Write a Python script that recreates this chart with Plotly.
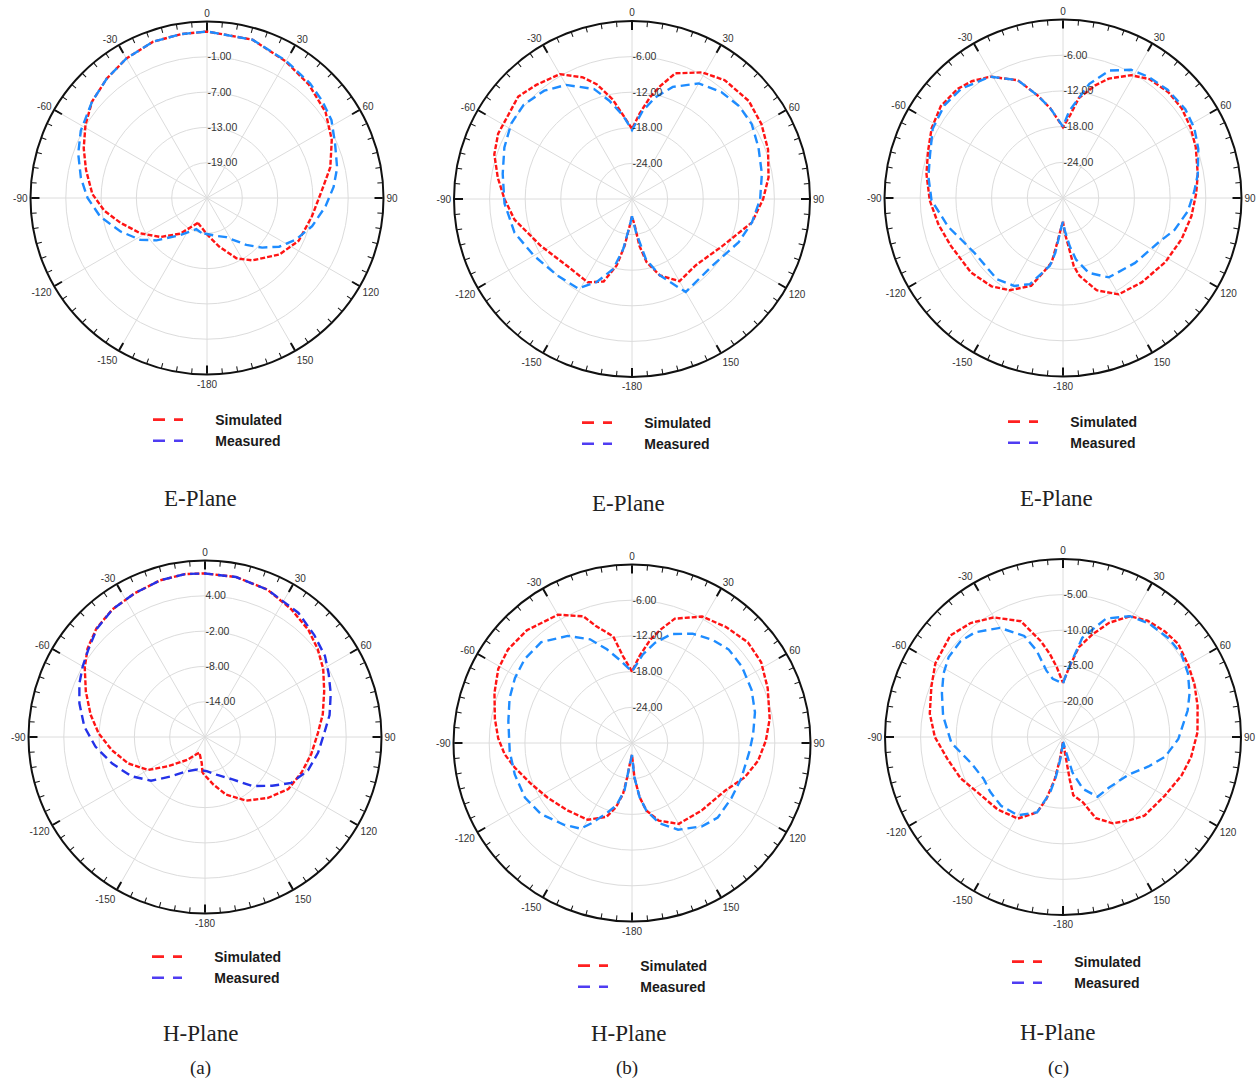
import plotly.graph_objects as go

W, H = 1258, 1082

# ---------------- radiation pattern data (angle in deg, gain in dB) ----------------
# (a) E-plane
a_e_sim_theta = [-160, -143, -130, -118, -106, -97, -88, -77, -68, -59, -50, -40, -30, -19, -9, 0,
                 16, 30, 42, 54, 65, 76, 86, 100, 115, 128, 144, 154, 166, 179]
a_e_sim_gain = [-20.5, -17.4, -14.7, -12.2, -9.7, -7.4, -5.5, -3.9, -2.4, -0.9, 0.5, 1.5, 2.4, 3.1, 3.2, 3.3,
                3.0, 1.8, 0.9, -0.1, -1.6, -3.4, -5.4, -6.9, -7.8, -9.4, -11.9, -13.6, -16.5, -18.7]
a_e_mea_theta = [-171, -161, -144, -130, -122, -111, -100, -90, -81, -71, -62, -50, -40, -30, -19, -9, 0,
                 16, 30, 42, 50, 58, 67, 77, 85, 94, 105, 115, 124, 132, 140, 154, 166]
a_e_mea_gain = [-19.0, -19.4, -17.2, -13.8, -11.6, -9.2, -6.6, -4.7, -3.3, -1.85, -0.7, 0.5, 1.5, 2.4, 3.1, 3.2, 3.3,
                3.0, 1.9, 1.2, 0.6, -0.05, -1.35, -2.3, -3.4, -4.8, -6.5, -8.3, -10.2, -12.4, -14.6, -17.6, -18.35]

# (a) H-plane
a_h_sim_theta = [-176, -173, -160, -142, -128, -120, -109, -98, -88, -79, -69, -60, -53, -45, -36, -26, -16, -7, 0,
                 11, 23, 34, 44, 52, 60, 69, 79, 88, 99, 110, 122, 134, 147, 160, 170]
a_h_sim_gain = [-13.9, -15.5, -17.2, -15.05, -11.9, -8.8, -6.2, -4.0, -1.9, -0.2, 1.7, 3.6, 5.0, 6.1, 6.8, 7.2, 7.7, 7.9, 7.8,
                7.7, 7.2, 6.2, 5.3, 4.3, 3.2, 1.7, 0.4, -0.8, -1.7, -2.5, -3.3, -5.1, -7.1, -9.6, -11.8]
a_h_mea_theta = [-166, -152, -139, -129, -118, -106, -95, -85, -75, -67, -60, -53, -45, -36, -26, -16, -7, 0,
                 11, 23, 37, 47, 56, 63, 71, 80, 88, 98, 108, 118, 126, 136, 147, 163, 177]
a_h_mea_gain = [-14.3, -13.4, -11.1, -8.2, -5.8, -3.6, -1.3, 0.6, 2.1, 3.2, 4.0, 4.8, 6.0, 6.8, 7.2, 7.7, 7.9, 7.8,
                7.7, 7.2, 6.4, 5.4, 4.6, 3.6, 2.6, 1.5, 0.3, -0.6, -1.6, -3.4, -5.9, -8.4, -11.4, -13.3, -14.2]

# (b) E-plane
b_e_sim_theta = [-180, -175, -171, -167, -161, -152, -136, -117, -100, -90, -81, -72, -64, -48, -40, -30, -22, -17,
                 -11, -4, 0, 5, 10, 14, 19, 29, 38, 50, 60, 70, 81, 90, 101, 118, 136, 150, 160, 167, 171, 174, 180]
b_e_sim_gain = [-27.1, -25.4, -22.0, -18.5, -15.3, -14.1, -14.3, -12.7, -9.9, -8.5, -7.1, -5.6, -4.9, -4.2, -4.9, -5.7,
                -7.9, -9.8, -12.9, -16.7, -18.2, -15.6, -12.6, -10.4, -7.6, -5.6, -4.6, -4.3, -4.8, -5.6, -6.7, -7.9,
                -9.4, -12.9, -14.5, -14.0, -16.3, -19.1, -22.0, -25.4, -27.1]
b_e_mea_theta = [-180, -175, -170, -165, -157, -149, -136, -120, -106, -92, -79, -68, -58, -49, -39, -30, -19, -13, -6,
                 0, 7, 13, 20, 30, 40, 49, 58, 68, 79, 90, 101, 112, 130, 150, 160, 167, 173, 180]
b_e_mea_gain = [-27.1, -25.4, -21.4, -17.8, -14.8, -12.4, -12.0, -10.9, -9.4, -8.5, -7.8, -6.8, -6.0, -5.8, -6.5, -7.8,
                -10.4, -13.0, -15.9, -18.4, -15.0, -12.4, -9.9, -7.5, -6.5, -6.1, -6.2, -7.0, -7.7, -8.4, -9.4, -10.6,
                -12.4, -11.9, -16.3, -19.6, -24.3, -27.1]

# (b) H-plane
b_h_sim_theta = [-180, -174, -172, -170, -166, -161, -150, -136, -123, -112, -102, -95, -88, -80, -70, -61, -53, -43,
                 -30, -21, -17, -10, -6, 0, 5, 10, 14, 19, 29, 39, 49, 58, 68, 80, 89, 98, 107, 117, 134, 150, 161,
                 168, 172, 176, 180]
b_h_sim_gain = [-28.0, -26.4, -24.1, -21.3, -18.9, -16.9, -15.1, -14.3, -13.1, -11.7, -9.9, -8.5, -7.5, -6.6, -5.4,
                -4.3, -3.9, -4.1, -5.1, -7.2, -9.5, -11.8, -15.3, -18.0, -15.3, -12.4, -10.4, -7.9, -5.7, -4.9, -4.2,
                -4.4, -5.4, -6.5, -7.5, -8.6, -10.2, -12.4, -13.7, -14.3, -16.2, -18.4, -20.8, -24.2, -28.0]
b_h_mea_theta = [-180, -174, -171, -166, -160, -153, -149, -140, -128, -117, -105, -94, -80, -70, -61, -52, -42, -31,
                 -22, -15, -8, 0, 7, 13, 20, 29, 38, 46, 55, 66, 76, 86, 94, 108, 119, 131, 140, 152, 161, 168, 172,
                 176, 180]
b_h_mea_gain = [-28.0, -26.4, -21.9, -19.2, -17.4, -14.8, -13.2, -12.1, -10.6, -9.8, -9.6, -9.4, -8.9, -8.1, -7.5,
                -7.1, -7.2, -9.0, -11.2, -13.7, -16.0, -18.0, -15.0, -12.7, -10.5, -9.0, -8.0, -7.4, -7.5, -8.0, -8.7,
                -9.6, -10.2, -10.7, -10.9, -10.9, -11.7, -13.5, -15.7, -18.4, -20.8, -24.2, -28.0]

# (c) E-plane
c_e_sim_theta = [-180, -177, -172, -170, -165, -160, -150, -141, -129, -113, -102, -91, -80, -71, -62, -53, -44, -38,
                 -31, -21, -14, -8, 0, 5, 9, 16, 21, 29, 36, 45, 53, 61, 69, 80, 88, 98, 109, 122, 137, 150, 160, 168,
                 171, 173, 177, 180]
c_e_sim_gain = [-26.0, -25.2, -21.8, -19.0, -17.0, -14.3, -12.1, -10.9, -10.1, -9.5, -8.6, -7.6, -6.7, -6.0, -5.0,
                -4.3, -4.5, -5.1, -6.2, -8.8, -12.2, -14.8, -18.1, -16.0, -13.0, -10.3, -8.5, -6.4, -5.3, -4.9, -5.0,
                -5.5, -6.1, -7.0, -7.6, -8.2, -8.9, -9.7, -10.6, -11.3, -13.5, -16.6, -18.4, -21.3, -24.1, -26.0]
c_e_mea_theta = [-180, -177, -172, -169, -159, -151, -141, -122, -112, -104, -91, -81, -72, -62, -52, -43, -31, -21,
                 -14, -8, 0, 4, 13, 20, 28, 35, 44, 54, 62, 70, 80, 87, 96, 106, 115, 132, 150, 161, 168, 172, 177, 180]
c_e_mea_gain = [-26.0, -25.2, -20.7, -18.4, -14.5, -13.1, -12.4, -12.5, -11.5, -10.1, -7.9, -7.1, -6.5, -5.2, -4.7,
                -4.9, -6.2, -8.8, -12.2, -14.8, -18.0, -15.4, -10.3, -7.2, -5.6, -5.1, -4.7, -4.6, -5.0, -5.8, -7.0,
                -7.9, -8.9, -10.5, -12.3, -13.7, -14.6, -16.7, -19.4, -21.8, -24.6, -26.0]

# (c) H-plane
c_h_sim_theta = [-180, -172, -169, -165, -161, -151, -138, -123, -112, -101, -90, -80, -69, -60, -48, -39, -30, -20,
                 -13, -9, -5, 0, 5, 10, 16, 22, 29, 36, 44, 51, 60, 68, 77, 88, 99, 108, 120, 134, 142, 150, 158, 163,
                 170, 171, 172, 178]
c_h_sim_gain = [-24.3, -21.8, -19.0, -16.0, -13.8, -11.9, -11.3, -10.7, -9.5, -8.5, -7.0, -6.0, -5.2, -4.3, -3.7,
                -4.4, -5.6, -7.7, -11.2, -13.2, -15.2, -17.4, -15.2, -12.2, -10.0, -7.7, -5.6, -4.8, -4.4, -4.2, -4.7,
                -5.1, -5.6, -6.1, -6.8, -7.5, -8.5, -9.1, -10.1, -11.0, -12.7, -15.4, -16.7, -19.0, -21.8, -24.3]
c_h_mea_theta = [-180, -173, -170, -167, -161, -150, -138, -127, -118, -106, -93, -80, -70, -62, -55, -47, -40, -30,
                 -21, -17, -14, -10, 0, 4, 11, 20, 29, 37, 47, 55, 63, 71, 78, 91, 101, 109, 120, 138, 150, 159, 165,
                 168, 176, 180]
c_h_mea_gain = [-24.2, -21.8, -19.5, -17.0, -13.8, -12.3, -12.0, -12.2, -12.4, -11.6, -9.3, -7.9, -6.9, -6.0, -5.4,
                -5.3, -5.8, -7.3, -9.8, -12.3, -15.4, -16.7, -17.5, -15.6, -10.8, -7.3, -5.6, -5.0, -4.7, -4.7, -5.3,
                -6.2, -7.1, -8.8, -10.4, -12.3, -14.4, -15.4, -15.3, -17.2, -19.8, -22.7, -24.2, -24.2]

# radial ranges and labelled rings of each panel
a_e_range, a_e_ticks = [-25, 5], [-19, -13, -7, -1]
a_h_range, a_h_ticks = [-20, 10], [-14, -8, -2, 4]
b_e_range, b_e_ticks = [-30, 0], [-24, -18, -12, -6]
b_h_range, b_h_ticks = [-30, 0], [-24, -18, -12, -6]
c_e_range, c_e_ticks = [-30, 0], [-24, -18, -12, -6]
c_h_range, c_h_ticks = [-25, 0], [-20, -15, -10, -5]

angle_ticks = list(range(0, 360, 30))
angle_labels = ["0", "30", "60", "90", "120", "150", "-180", "-150", "-120", "-90", "-60", "-30"]

SIM_COLOR = "#ff1414"
MEA_COLOR = "#1e8cff"
MEA_COLOR_DARK = "#2432e8"
LEG_SIM = "#ff2020"
LEG_MEA = "#4f3cf2"

# panel layout: centre (px) and radius (px)
panels = [
    dict(cx=207, cy=198, R=176.5, st=a_e_sim_theta, sg=a_e_sim_gain, mt=a_e_mea_theta, mg=a_e_mea_gain,
         rng=a_e_range, ticks=a_e_ticks, mcol=MEA_COLOR, leg=(153, 417)),
    dict(cx=632, cy=199, R=178, st=b_e_sim_theta, sg=b_e_sim_gain, mt=b_e_mea_theta, mg=b_e_mea_gain,
         rng=b_e_range, ticks=b_e_ticks, mcol=MEA_COLOR, leg=(582, 420)),
    dict(cx=1063, cy=198, R=178.5, st=c_e_sim_theta, sg=c_e_sim_gain, mt=c_e_mea_theta, mg=c_e_mea_gain,
         rng=c_e_range, ticks=c_e_ticks, mcol=MEA_COLOR, leg=(1008, 419)),
    dict(cx=205, cy=737, R=176.5, st=a_h_sim_theta, sg=a_h_sim_gain, mt=a_h_mea_theta, mg=a_h_mea_gain,
         rng=a_h_range, ticks=a_h_ticks, mcol=MEA_COLOR_DARK, leg=(152, 954)),
    dict(cx=632, cy=743, R=178.5, st=b_h_sim_theta, sg=b_h_sim_gain, mt=b_h_mea_theta, mg=b_h_mea_gain,
         rng=b_h_range, ticks=b_h_ticks, mcol=MEA_COLOR, leg=(578, 963)),
    dict(cx=1063, cy=737, R=178, st=c_h_sim_theta, sg=c_h_sim_gain, mt=c_h_mea_theta, mg=c_h_mea_gain,
         rng=c_h_range, ticks=c_h_ticks, mcol=MEA_COLOR, leg=(1012, 959)),
]


def closed(seq):
    return list(seq) + [seq[0]]


fig = go.Figure()
layout = {}
pad = "\u00a0" * 7

for i, p in enumerate(panels):
    main_id = "polar" if i == 0 else f"polar{2 * i + 1}"
    over_id = f"polar{2 * i + 2}"
    legend_id = "legend" if i == 0 else f"legend{i + 1}"

    dom = dict(x=[(p["cx"] - p["R"]) / W, (p["cx"] + p["R"]) / W],
               y=[1 - (p["cy"] + p["R"]) / H, 1 - (p["cy"] - p["R"]) / H])

    layout[main_id] = dict(
        domain=dom,
        bgcolor="white",
        angularaxis=dict(rotation=90, direction="clockwise", tickmode="array",
                         tickvals=angle_ticks, ticktext=angle_labels,
                         showline=True, linecolor="#111", linewidth=2,
                         ticks="inside", ticklen=8, tickwidth=1.6, tickcolor="#111",
                         showgrid=True, gridcolor="#dcdcdc", gridwidth=1,
                         tickfont=dict(family="Arial", size=10, color="#333")),
        radialaxis=dict(range=p["rng"], angle=90, tickangle=90, tickmode="array",
                        tickvals=p["ticks"], ticktext=[f"{v:.2f}" for v in p["ticks"]],
                        showline=False, ticks="", showgrid=True, gridcolor="#dcdcdc", gridwidth=1,
                        tickfont=dict(family="Arial", size=10.5, color="#333")),
    )
    layout[over_id] = dict(
        domain=dom,
        bgcolor="rgba(0,0,0,0)",
        angularaxis=dict(rotation=90, direction="clockwise", tickmode="linear", tick0=0, dtick=5,
                         showline=False, ticks="inside", ticklen=5, tickwidth=1.3, tickcolor="#111",
                         showticklabels=False, showgrid=False),
        radialaxis=dict(range=p["rng"], visible=False, showgrid=False),
    )

    fig.add_trace(go.Scatterpolar(theta=closed(p["st"]), r=closed(p["sg"]), mode="lines", subplot=main_id,
                                  line=dict(color=SIM_COLOR, width=2.4, dash="5px,2px"),
                                  showlegend=False, hoverinfo="skip"))
    fig.add_trace(go.Scatterpolar(theta=closed(p["mt"]), r=closed(p["mg"]), mode="lines", subplot=main_id,
                                  line=dict(color=p["mcol"], width=2.4, dash="9px,5px"),
                                  showlegend=False, hoverinfo="skip"))
    # legend entries
    fig.add_trace(go.Scatterpolar(theta=[None], r=[None], mode="lines", subplot=main_id,
                                  name=pad + "Simulated", legend=legend_id,
                                  line=dict(color=LEG_SIM, width=2.6, dash="12px,9px")))
    fig.add_trace(go.Scatterpolar(theta=[None], r=[None], mode="lines", subplot=main_id,
                                  name=pad + "Measured", legend=legend_id,
                                  line=dict(color=LEG_MEA, width=2.6, dash="12px,9px")))
    # keeps the tick overlay subplot alive
    fig.add_trace(go.Scatterpolar(theta=[None], r=[None], mode="lines", subplot=over_id,
                                  showlegend=False, hoverinfo="skip"))

    lx, ly = p["leg"]
    layout[legend_id] = dict(x=(lx - 5) / W, y=1 - (ly - 13) / H, xanchor="left", yanchor="top",
                             bgcolor="rgba(0,0,0,0)", borderwidth=0, tracegroupgap=0,
                             font=dict(family="Arial", size=14, color="#1a1a1a", weight="bold"))

# captions
captions = [("E-Plane", 200, 498), ("E-Plane", 628, 503), ("E-Plane", 1056, 499),
            ("H-Plane", 200, 1033), ("H-Plane", 628, 1033), ("H-Plane", 1057, 1032)]
annotations = [dict(text=t, x=x / W, y=1 - y / H, xref="paper", yref="paper", showarrow=False,
                    xanchor="center", yanchor="middle",
                    font=dict(family="Liberation Serif", size=23, color="#222")) for t, x, y in captions]
for t, x in [("(a)", 200), ("(b)", 627), ("(c)", 1058)]:
    annotations.append(dict(text=t, x=x / W, y=1 - 1068 / H, xref="paper", yref="paper", showarrow=False,
                            xanchor="center", yanchor="middle",
                            font=dict(family="Liberation Serif", size=19, color="#222")))

fig.update_layout(width=W, height=H, margin=dict(l=0, r=0, t=0, b=0), paper_bgcolor="white",
                  plot_bgcolor="white", annotations=annotations, **layout)

fig.write_html("out.html")
